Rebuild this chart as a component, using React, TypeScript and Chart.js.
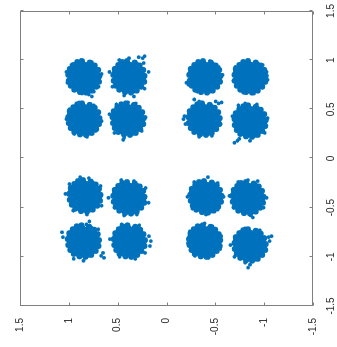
import { useEffect, useRef } from "react";
import { Chart, registerables } from "chart.js";

Chart.register(...registerables);

// Axis ticks (same on both axes)
const tickValues = [-1.5, -1, -0.5, 0, 0.5, 1, 1.5];

// Cluster centres (x = I, y = Q)
const clusterX = [0.83, 0.83, 0.83, 0.83, 0.4, 0.4, 0.4, 0.38, -0.38, -0.4, -0.39, -0.4, -0.84, -0.84, -0.84, -0.88];
const clusterY = [0.845, 0.384, -0.394, -0.855, 0.845, 0.394, -0.384, -0.855, 0.835, 0.384, -0.404, -0.834, 0.85, 0.38, -0.39, -0.855];

// Dense core of each cluster (offsets from centre)
const coreDX = [0, 0.05, -0.04, -0.05, 0.02, 0.06, -0.01, 0.11, 0.09, 0.04, -0.03, -0.08, -0.11, -0.11, -0.07, -0.01, 0.05, 0.1];
const coreDY = [0, 0.02, 0.05, -0.03, -0.06, -0.03, 0.065, 0.03, 0.08, 0.115, 0.11, 0.08, 0.03, -0.04, -0.09, -0.115, -0.1, -0.06];

// Rim samples of each cluster (offsets from centre)
const rimDX = [0.16, 0.15, 0.12, 0.08, 0.02, -0.04, -0.09, -0.13, -0.155, -0.16, -0.14, -0.1, -0.05, 0.01, 0.07, 0.115, 0.145];
const rimDY = [0.02, 0.07, 0.11, 0.145, 0.16, 0.155, 0.135, 0.1, 0.04, -0.02, -0.08, -0.125, -0.155, -0.16, -0.145, -0.11, -0.06];

// Scattered outer samples of each cluster, [dx, dy]
const fringe: number[][][] = [
  [[-0.18, -0.05], [-0.17, 0.02], [-0.2, -0.08], [0.17, 0.03], [0.15, -0.08], [0.05, 0.18], [-0.06, 0.17], [0.03, -0.18], [-0.1, -0.15], [0.12, 0.13], [-0.15, -0.1]],
  [[0.21, -0.16], [0.19, -0.14], [0.2, -0.1], [0.19, 0.0], [0.17, 0.1], [0.05, 0.2], [-0.1, 0.17], [-0.19, 0.05], [-0.2, -0.05], [-0.12, -0.16], [0.05, -0.2], [0.14, -0.15]],
  [[-0.06, 0.19], [-0.08, 0.17], [0.15, 0.06], [0.16, -0.05], [0.02, -0.18], [-0.16, -0.02], [-0.15, 0.08], [0.1, -0.14]],
  [[0.17, 0.02], [0.12, -0.13], [-0.03, -0.18], [-0.17, -0.04], [-0.16, 0.07], [-0.04, 0.17], [0.1, 0.15], [0.05, -0.17]],
  [[0.17, 0.05], [0.14, -0.1], [-0.02, -0.18], [-0.18, -0.03], [-0.15, 0.1], [0.0, 0.18], [0.1, 0.15], [-0.12, -0.12]],
  [[-0.21, 0.05], [-0.19, 0.04], [0.17, 0.0], [0.16, -0.08], [0.02, -0.18], [-0.12, -0.14], [0.05, 0.19], [0.15, 0.12], [-0.14, 0.14]],
  [[0.0, 0.21], [0.03, 0.2], [-0.05, 0.19], [0.17, -0.18], [0.16, -0.15], [0.18, -0.12], [0.18, 0.05], [0.2, 0.1], [-0.18, 0.05], [-0.17, -0.08], [-0.05, -0.17]],
  [[-0.22, 0.16], [-0.2, 0.13], [-0.18, 0.11], [-0.2, 0.0], [0.18, 0.05], [0.17, -0.07], [0.03, -0.18], [-0.12, -0.15], [0.05, 0.18], [0.16, 0.12]],
  [[0.19, 0.05], [0.18, -0.04], [0.1, -0.16], [-0.1, -0.17], [-0.19, -0.02], [-0.15, 0.12], [0.02, 0.2], [0.12, 0.16]],
  [[0.0, 0.21], [0.18, 0.08], [0.17, -0.05], [0.1, -0.17], [-0.05, -0.2], [-0.17, -0.08], [-0.18, 0.05], [-0.1, 0.15]],
  [[0.2, -0.02], [0.15, 0.12], [0.14, -0.12], [0.0, -0.18], [-0.18, 0.0], [-0.13, -0.12], [-0.12, 0.14], [0.0, 0.19]],
  [[-0.2, -0.05], [-0.18, -0.03], [0.18, 0.0], [0.17, -0.1], [0.16, 0.1], [0.0, -0.19], [0.02, 0.19], [-0.1, 0.15], [-0.1, -0.16]],
  [[-0.17, -0.21], [-0.15, -0.18], [-0.12, -0.2], [0.2, -0.06], [0.17, -0.03], [0.09, 0.22], [0.04, 0.21], [-0.18, 0.1], [-0.2, 0.0], [0.12, -0.15]],
  [[0.0, -0.22], [0.05, -0.2], [-0.05, -0.21], [0.16, -0.1], [0.17, 0.08], [0.02, 0.2], [-0.16, 0.1], [-0.18, -0.06], [-0.12, -0.16]],
  [[0.18, 0.0], [0.15, -0.08], [0.1, 0.15], [-0.15, 0.1], [-0.17, -0.04], [-0.08, -0.16], [0.05, -0.17], [-0.02, 0.17]],
  [[0.09, -0.22], [0.08, -0.19], [0.04, -0.2], [-0.23, 0.02], [-0.2, 0.0], [-0.18, 0.05], [0.17, 0.05], [0.15, -0.1], [0.0, 0.2], [-0.12, 0.16]],
];

const BLUE = "#0072BD";
const AXIS = "#7f7f7f";
const TEXT = "#262626";
const FONT = "'Liberation Sans', Arial, Helvetica, sans-serif";

const boxTicks = {
  id: "boxTicks",
  afterDraw(chart: any) {
    const { ctx, chartArea: a, scales } = chart;
    const L = Math.round(a.left) + 0.5;
    const R = Math.round(a.right) - 0.5;
    const T = Math.round(a.top) + 0.5;
    const B = Math.round(a.bottom) - 0.5;
    ctx.save();
    ctx.strokeStyle = AXIS;
    ctx.lineWidth = 1;
    ctx.strokeRect(L, T, R - L, B - T);
    ctx.beginPath();
    for (const v of tickValues) {
      const px = Math.round(scales.x.getPixelForValue(v)) + 0.5;
      ctx.moveTo(px, B);
      ctx.lineTo(px, B - 3);
      ctx.moveTo(px, T);
      ctx.lineTo(px, T + 3);
      const py = Math.round(scales.y.getPixelForValue(v)) + 0.5;
      ctx.moveTo(L, py);
      ctx.lineTo(L + 3, py);
      ctx.moveTo(R, py);
      ctx.lineTo(R - 3, py);
    }
    ctx.stroke();
    ctx.restore();
  },
};

export default function App() {
  const ref = useRef<HTMLCanvasElement | null>(null);

  useEffect(() => {
    if (!ref.current) return;
    const core: { x: number; y: number }[] = [];
    const rim: { x: number; y: number }[] = [];
    const outer: { x: number; y: number }[] = [];
    clusterX.forEach((cx, i) => {
      const cy = clusterY[i];
      coreDX.forEach((dx, j) => core.push({ x: cx + dx, y: cy + coreDY[j] }));
      rimDX.forEach((dx, j) => rim.push({ x: cx + dx, y: cy + rimDY[j] }));
      fringe[i].forEach(([dx, dy]) => outer.push({ x: cx + dx, y: cy + dy }));
    });

    const tickCfg = {
      color: TEXT,
      font: { family: FONT, size: 10 },
      callback: (v: any) => String(v),
    };

    const chart = new Chart(ref.current, {
      type: "scatter",
      data: {
        datasets: [
          { data: core, backgroundColor: BLUE, borderWidth: 0, pointRadius: 6, pointHoverRadius: 6 },
          { data: rim, backgroundColor: BLUE, borderWidth: 0, pointRadius: 3, pointHoverRadius: 3 },
          { data: outer, backgroundColor: BLUE, borderWidth: 0, pointRadius: 1.9, pointHoverRadius: 1.9 },
        ],
      },
      plugins: [boxTicks],
      options: {
        responsive: false,
        animation: false,
        events: [],
        layout: { padding: { top: 20, right: 9, left: 0, bottom: 0 } },
        plugins: { legend: { display: false }, tooltip: { enabled: false } },
        scales: {
          x: {
            type: "linear",
            min: -1.5,
            max: 1.5,
            afterBuildTicks: (s: any) => {
              s.ticks = tickValues.map((v) => ({ value: v }));
            },
            afterFit: (s: any) => {
              s.height = 24;
            },
            ticks: { ...tickCfg, padding: 4, maxRotation: 0, autoSkip: false },
            grid: { display: false },
            border: { display: false },
          },
          y: {
            type: "linear",
            min: -1.5,
            max: 1.5,
            afterBuildTicks: (s: any) => {
              s.ticks = tickValues.map((v) => ({ value: v }));
            },
            afterFit: (s: any) => {
              s.width = 41;
            },
            ticks: { ...tickCfg, padding: 4, autoSkip: false },
            grid: { display: false },
            border: { display: false },
          },
        },
      },
    });
    return () => chart.destroy();
  }, []);

  return (
    <div
      style={{
        position: "fixed",
        left: 0,
        top: 0,
        width: 347,
        height: 337,
        background: "#fff",
        transformOrigin: "0 0",
        transform: "translateY(347px) rotate(-90deg)",
      }}
    >
      <canvas ref={ref} width={347} height={337} style={{ display: "block" }} />
    </div>
  );
}
